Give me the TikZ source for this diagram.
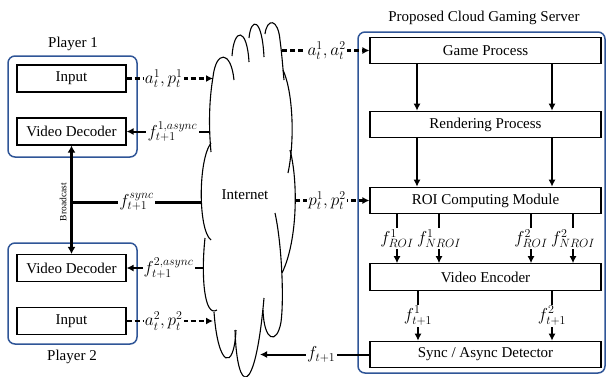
\documentclass[tikz,border=0pt]{standalone}
\usepackage{fontspec}
\setmainfont{Liberation Serif}
\usetikzlibrary{arrows.meta}
\definecolor{myblue}{RGB}{47,85,151}
\begin{document}
\begin{tikzpicture}[x=1pt,y=-1pt,
  font=\fontsize{15}{18}\selectfont,
  box/.style={draw=black, line width=1.1pt, inner sep=0pt, fill=white},
  pbox/.style={box, minimum width=109pt, minimum height=27pt},
  sbox/.style={box, minimum width=231pt, minimum height=26.5pt},
  grp/.style={draw=myblue, line width=1.5pt, rounded corners=7pt, inner sep=0pt},
  arr/.style={line width=2pt, -{Latex[length=7pt,width=7pt]}},
  darr/.style={line width=2.2pt, dash pattern=on 5pt off 3pt, -{Latex[length=7pt,width=7pt]}},
  lab/.style={fill=white, inner sep=1.2pt, font=\fontsize{17.5}{20}\selectfont},
  cl/.style={line width=1.1pt}
]
\useasboundingbox (0,0) rectangle (607,376);
\clip (0,0) rectangle (607,376);

% groups
\node[grp, minimum width=129pt, minimum height=101pt] (g1) at (72.5,106.5) {};
\node[grp, minimum width=129pt, minimum height=101pt] (g2) at (72.5,293.5) {};
\node[grp, minimum width=247pt, minimum height=341pt] (gs) at (481.5,202.5) {};

\node (p1t) at (73,44) {Player 1};
\node (p2t) at (72,357) {Player 2};
\node (st) at (484,18) {Proposed Cloud Gaming Server};

% player boxes
\node[pbox] (in1) at (71.5,78.5) {Input};
\node[pbox] (vd1) at (71.5,131.5) {Video Decoder};
\node[pbox] (vd2) at (71.5,268) {Video Decoder};
\node[pbox] (in2) at (71.5,321) {Input};

% server boxes
\node[sbox] (gp) at (485.5,50.5) {Game Process};
\node[sbox] (rp) at (485.5,124.5) {Rendering Process};
\node[sbox] (roi) at (485.5,200.5) {ROI Computing Module};
\node[sbox] (enc) at (485.5,277) {Video Encoder};
\node[sbox] (sync) at (485.5,354.5) {Sync / Async Detector};

% cloud
\begin{scope}[cl]
\draw (211,152) .. controls (208,120) and (210,95) .. (213,77)
      .. controls (216,50) and (231,50) .. (234,80);
\draw (232,56) .. controls (234,27) and (247,27) .. (249,62);
\draw (249,38) .. controls (251,17) and (262,17) .. (264,57);
\draw (265,34) .. controls (267,18) and (278,18) .. (280,40)
      .. controls (282,55) and (283,70) .. (284,80);
\draw (283,70) .. controls (293,92) and (295,140) .. (288,173);
\draw (290,150) .. controls (298,180) and (298,240) .. (282,273);
\draw (275,213) .. controls (282,245) and (284,300) .. (281,322)
      .. controls (277,345) and (264,342) .. (263,310);
\draw (235,330) .. controls (237,395) and (255,400) .. (264,298);
\draw (214,312) .. controls (218,368) and (234,372) .. (236,330);
\draw (205,238) .. controls (201,275) and (204,318) .. (217,310);
\draw (211,143) .. controls (198,160) and (198,230) .. (211,240);
\end{scope}
\node (inet) at (245,195) {Internet};

% cloud contact points
\coordinate (cIn1) at (213,78.5);
\coordinate (cVd1) at (210,131.5);
\coordinate (cSync) at (201.5,202);
\coordinate (cVd2) at (203,268);
\coordinate (cIn2) at (213,321);
\coordinate (cA) at (282,50.5);
\coordinate (cP) at (295,200.5);
\coordinate (cF) at (260,354.5);
\coordinate (bc) at (71.5,202);

% left connectors
\draw[darr] (in1.east) -- (cIn1) node[lab, pos=0.43] {$a_t^1, p_t^1$};
\draw[arr] (cVd1) -- (vd1.east) node[lab, pos=0.45] {$f_{t+1}^{1,async}$};
\draw[arr] (cVd2) -- (vd2.east) node[lab, pos=0.45] {$f_{t+1}^{2,async}$};
\draw[darr] (in2.east) -- (cIn2) node[lab, pos=0.43] {$a_t^2, p_t^2$};
\draw[line width=3pt, {Latex[length=7pt,width=8pt]}-{Latex[length=7pt,width=8pt]}] (vd1.south) -- (vd2.north);
\draw[line width=3pt] (bc) -- (cSync) node[lab, pos=0.5] {$f_{t+1}^{sync}$};
\node[rotate=90, font=\fontsize{9.5}{11}\selectfont] (bl) at (63,202) {Broadcast};

% right connectors
\draw[darr] (cA) -- (gp.west) node[lab, pos=0.51] {$a_t^1, a_t^2$};
\draw[darr] (cP) -- (roi.west) node[lab, pos=0.43] {$p_t^1, p_t^2$};
\draw[arr] (sync.west) -- (cF) node[lab, pos=0.44] {$f_{t+1}$};

% server internal
\draw[arr] ([xshift=-68.5pt]gp.south) -- ([xshift=-68.5pt]rp.north);
\draw[arr] ([xshift=66.5pt]gp.south) -- ([xshift=66.5pt]rp.north);
\draw[arr] ([xshift=-68.5pt]rp.south) -- ([xshift=-68.5pt]roi.north);
\draw[arr] ([xshift=66.5pt]rp.south) -- ([xshift=66.5pt]roi.north);
\draw[arr] ([xshift=-88.5pt]roi.south) -- ([xshift=-88.5pt]enc.north) node[lab, pos=0.5] {$f_{ROI}^{1}$};
\draw[arr] ([xshift=-46.5pt]roi.south) -- ([xshift=-46.5pt]enc.north) node[lab, pos=0.5] {$f_{NROI}^{1}$};
\draw[arr] ([xshift=45.5pt]roi.south) -- ([xshift=45.5pt]enc.north) node[lab, pos=0.5] {$f_{ROI}^{2}$};
\draw[arr] ([xshift=87.5pt]roi.south) -- ([xshift=87.5pt]enc.north) node[lab, pos=0.5] {$f_{NROI}^{2}$};
\draw[arr] ([xshift=-67.5pt]enc.south) -- ([xshift=-67.5pt]sync.north) node[lab, pos=0.5] {$f_{t+1}^{1}$};
\draw[arr] ([xshift=66.5pt]enc.south) -- ([xshift=66.5pt]sync.north) node[lab, pos=0.5] {$f_{t+1}^{2}$};
\end{tikzpicture}
\end{document}
